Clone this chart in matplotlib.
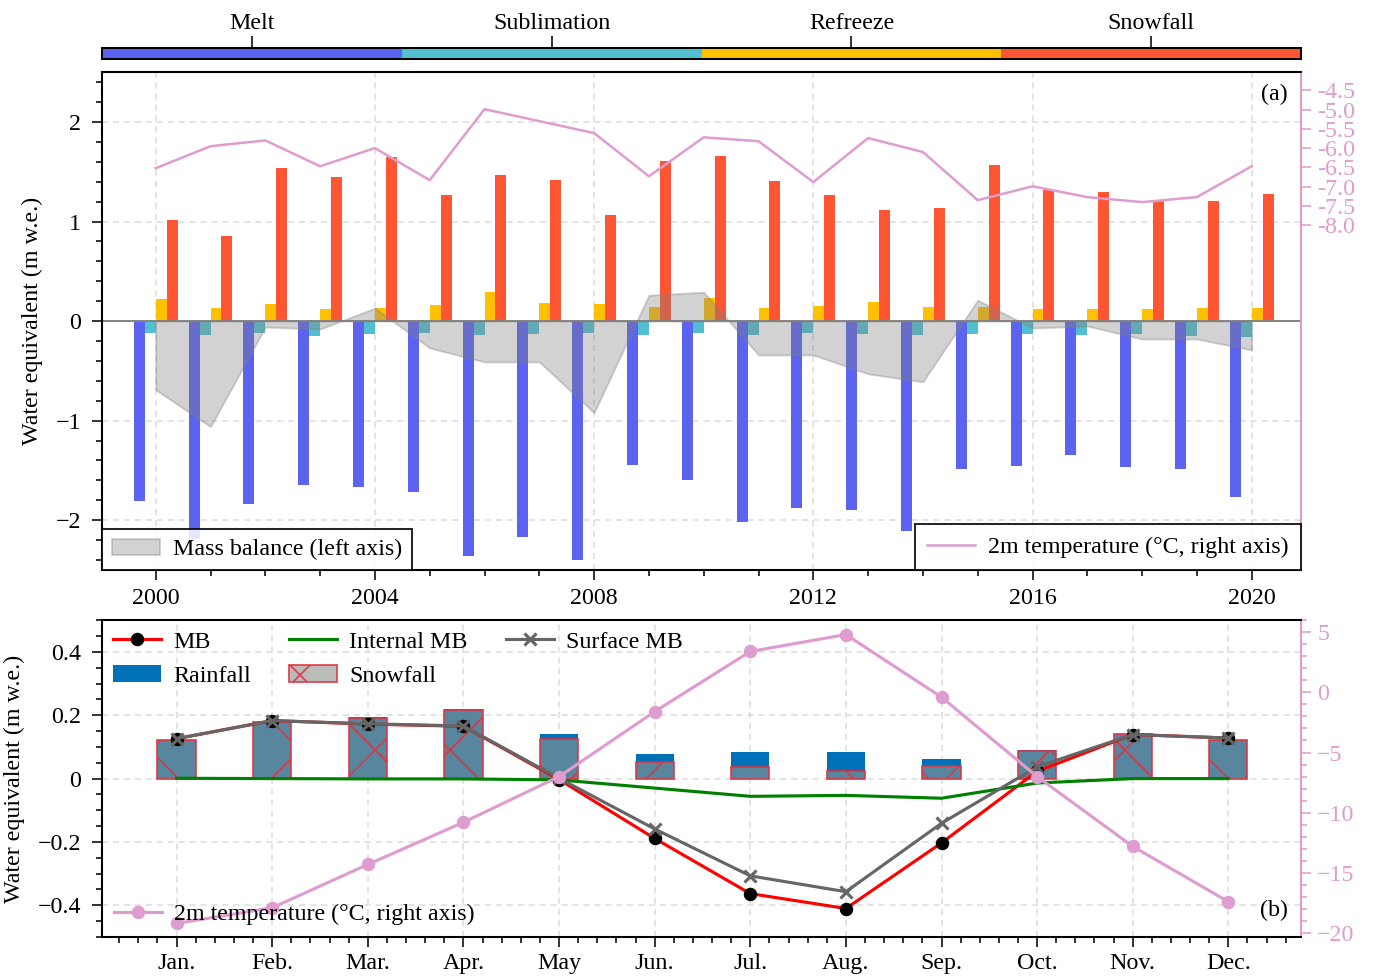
# glacier mass balance: annual components (a) and monthly cycle (b)
import numpy as np
import matplotlib
matplotlib.use('Agg')
import matplotlib.pyplot as plt
from matplotlib.ticker import MultipleLocator, FuncFormatter

plt.rcParams['font.family'] = ['Liberation Serif', 'DejaVu Serif']
plt.rcParams['font.size'] = 7.7
plt.rcParams['hatch.linewidth'] = 0.6
plt.rcParams['axes.linewidth'] = 0.65

# ---- annual data (panel a) ----
years = np.arange(2000, 2021)
melt = [-1.81, -2.19, -1.84, -1.65, -1.67, -1.72, -2.36, -2.17, -2.40, -1.45, -1.60,
        -2.02, -1.88, -1.90, -2.11, -1.49, -1.46, -1.35, -1.47, -1.49, -1.77]
sublimation = [-0.12, -0.14, -0.12, -0.15, -0.13, -0.12, -0.14, -0.13, -0.12, -0.14, -0.12,
               -0.14, -0.12, -0.13, -0.14, -0.13, -0.13, -0.14, -0.13, -0.15, -0.16]
refreeze = [0.22, 0.13, 0.17, 0.12, 0.13, 0.16, 0.29, 0.18, 0.17, 0.14, 0.23,
            0.13, 0.15, 0.19, 0.14, 0.14, 0.12, 0.12, 0.12, 0.13, 0.13]
snowfall_yr = [1.02, 0.85, 1.54, 1.45, 1.65, 1.27, 1.47, 1.42, 1.07, 1.61, 1.66,
               1.41, 1.27, 1.12, 1.14, 1.57, 1.32, 1.30, 1.22, 1.21, 1.28]
mass_balance = [-0.69, -1.06, -0.06, -0.08, 0.13, -0.27, -0.41, -0.41, -0.92, 0.26, 0.29,
                -0.34, -0.34, -0.53, -0.61, 0.21, -0.07, -0.05, -0.18, -0.18, -0.29]
temp_yr = [-6.52, -5.95, -5.80, -6.47, -6.00, -6.83, -4.99, -5.30, -5.61, -6.73, -5.72,
           -5.82, -6.88, -5.74, -6.10, -7.35, -6.99, -7.27, -7.40, -7.27, -6.47]
components = ['Melt', 'Sublimation', 'Refreeze', 'Snowfall']
comp_colors = ['#5B63F0', '#52BFD0', '#FFC000', '#FF5533']
temp_ticks = [-4.5, -5.0, -5.5, -6.0, -6.5, -7.0, -7.5, -8.0]

# ---- monthly data (panel b) ----
months = np.arange(1, 13)
month_labels = ['Jan.', 'Feb.', 'Mar.', 'Apr.', 'May', 'Jun.', 'Jul.', 'Aug.',
                'Sep.', 'Oct.', 'Nov.', 'Dec.']
mb_month = [0.126, 0.183, 0.172, 0.165, -0.003, -0.189, -0.363, -0.410, -0.203, 0.023, 0.139, 0.128]
internal_mb = [0.001, 0.0, -0.001, -0.001, -0.004, -0.030, -0.056, -0.053, -0.062, -0.014, 0.0, 0.0]
surface_mb = [0.126, 0.183, 0.173, 0.166, 0.001, -0.159, -0.307, -0.357, -0.141, 0.037, 0.139, 0.128]
snowfall_mo = [0.121, 0.179, 0.191, 0.217, 0.125, 0.053, 0.036, 0.025, 0.041, 0.086, 0.141, 0.123]
rainfall_mo = [0.001, 0.001, 0.002, 0.004, 0.015, 0.026, 0.048, 0.059, 0.021, 0.005, 0.0, 0.0]
temp_mo = [-19.2, -17.9, -14.3, -10.8, -7.0, -1.6, 3.4, 4.8, -0.4, -7.0, -12.8, -17.4]

pink = '#DF9CCF'
grid_kw = dict(color='#DDDDDD', lw=0.5, ls=(0, (4, 3)))
tick_kw = dict(length=3.2, width=0.5)
mtick_kw = dict(length=1.9, width=0.5)

fig = plt.figure(figsize=(1375 / 225, 978 / 225), dpi=225)
L, W = 0.0742, 0.872

# ---- top colour strip ----
ax_c = fig.add_axes([L, 0.9397, W, 0.01125])
ax_c.bar(np.arange(4), np.ones(4), width=1.0, color=comp_colors)
ax_c.set_xlim(-0.5, 3.5)
ax_c.set_ylim(0, 1)
ax_c.set_yticks([])
ax_c.xaxis.tick_top()
ax_c.set_xticks(np.arange(4))
ax_c.set_xticklabels(components)
ax_c.tick_params(axis='x', length=3.8, width=0.5, pad=0.6)

# ---- panel (a) ----
ax_a = fig.add_axes([L, 0.4172, W, 0.509])
offsets = [-0.3, -0.1, 0.1, 0.3]
for vals, off, c in zip([melt, sublimation, refreeze, snowfall_yr], offsets, comp_colors):
    ax_a.bar(years + off, vals, 0.2, color=c, zorder=2)
mb_fill = ax_a.fill_between(years, mass_balance, 0, facecolor='gray', edgecolor='gray',
                            alpha=0.35, lw=0.6, zorder=3, label='Mass balance (left axis)')
ax_a.axhline(0, color='gray', lw=0.6, zorder=3)
ax_a.set_xlim(1999.02, 2020.9)
ax_a.set_ylim(-2.5, 2.5)
ax_a.set_xticks(np.arange(2000, 2021, 4))
ax_a.xaxis.set_minor_locator(MultipleLocator(1))
ax_a.yaxis.set_major_locator(MultipleLocator(1))
ax_a.yaxis.set_minor_locator(MultipleLocator(0.2))
ax_a.tick_params(which='major', **tick_kw)
ax_a.tick_params(which='minor', **mtick_kw)
ax_a.tick_params(axis='x', pad=2.5)
ax_a.grid(True, which='major', zorder=0, **grid_kw)
ax_a.set_axisbelow(True)
ax_a.set_ylabel('Water equivalent (m w.e.)')
ax_a.spines['right'].set_visible(False)

ax_a2 = ax_a.twinx()
t_line, = ax_a2.plot(years, temp_yr, color=pink, lw=0.8, label='2m temperature (°C, right axis)')
ax_a2.set_ylim(-16.94, -4.03)
ax_a2.set_yticks(temp_ticks)
ax_a2.set_yticklabels(['{:.1f}'.format(t) for t in temp_ticks])
ax_a2.tick_params(axis='y', colors=pink, pad=2, **tick_kw)
ax_a2.spines['right'].set_color(pink)
ax_a2.text(0.989, 0.976, '(a)', transform=ax_a2.transAxes, ha='right', va='top')

leg_kw = dict(fancybox=False, edgecolor='black', framealpha=0.85, borderaxespad=0,
              handletextpad=0.55)
leg1 = ax_a2.legend(handles=[mb_fill], loc='lower left', **leg_kw)
leg1.get_frame().set_linewidth(0.65)
ax_a2.add_artist(leg1)
leg2 = ax_a2.legend(handles=[t_line], loc='lower right', borderpad=0.5, **leg_kw)
leg2.get_frame().set_linewidth(0.65)

# ---- panel (b) ----
ax_b = fig.add_axes([L, 0.0419, W, 0.324])
total = np.array(rainfall_mo) + np.array(snowfall_mo)
rain_bars = ax_b.bar(months, total, 0.4, color='#0070B8', label='Rainfall', zorder=2)
snow_bars = ax_b.bar(months, snowfall_mo, 0.4, facecolor=(0.56, 0.58, 0.56, 0.62),
                     edgecolor=(0.88, 0.2, 0.25, 0.85), hatch='x', lw=0.6,
                     label='Snowfall', zorder=2)
l_mb, = ax_b.plot(months, mb_month, color='red', lw=1.0, marker='o', ms=3.3,
                  mfc='black', mec='black', label='MB', zorder=3)
l_int, = ax_b.plot(months, internal_mb, color='green', lw=1.0, label='Internal MB', zorder=3)
l_sfc, = ax_b.plot(months, surface_mb, color='#666666', lw=1.0, marker='x', ms=3.8,
                   mew=1.0, label='Surface MB', zorder=3)
ax_b.set_xlim(0.22, 12.76)
ax_b.set_ylim(-0.5, 0.5)
ax_b.set_xticks(months)
ax_b.set_xticklabels(month_labels)
ax_b.xaxis.set_minor_locator(MultipleLocator(0.2))
ax_b.yaxis.set_major_locator(MultipleLocator(0.2))
ax_b.yaxis.set_minor_locator(MultipleLocator(0.05))
ax_b.yaxis.set_major_formatter(FuncFormatter(
    lambda v, p: '0' if abs(v) < 1e-9 else '{:.1f}'.format(v).replace('-', '\u2212')))
ax_b.tick_params(which='major', **tick_kw)
ax_b.tick_params(which='minor', **mtick_kw)
ax_b.tick_params(axis='x', pad=2)
ax_b.grid(True, which='major', zorder=0, **grid_kw)
ax_b.set_axisbelow(True)
ax_b.set_ylabel('Water equivalent (m w.e.)')
ax_b.spines['right'].set_visible(False)

ax_b2 = ax_b.twinx()
l_t, = ax_b2.plot(months, temp_mo, color=pink, lw=1.0, marker='o', ms=3.3,
                  label='2m temperature (°C, right axis)')
ax_b2.set_ylim(-20.33, 6.0)
ax_b2.yaxis.set_major_locator(MultipleLocator(5))
ax_b2.yaxis.set_minor_locator(MultipleLocator(1))
ax_b2.tick_params(axis='y', which='major', colors=pink, pad=2, **tick_kw)
ax_b2.tick_params(axis='y', which='minor', colors=pink, **mtick_kw)
ax_b2.spines['right'].set_color(pink)
ax_b2.text(0.989, 0.085, '(b)', transform=ax_b2.transAxes, ha='right', va='center')

leg3 = ax_b2.legend(handles=[l_mb, rain_bars, l_int, snow_bars, l_sfc], loc='upper left',
                    ncol=3, frameon=False, borderaxespad=0.2, borderpad=0.25,
                    labelspacing=0.5, columnspacing=1.6, handletextpad=0.5)
ax_b2.add_artist(leg3)
ax_b2.legend(handles=[l_t], loc='lower left', frameon=False, borderaxespad=0.2,
             borderpad=0.3, handletextpad=0.5)

fig.savefig('out.png', dpi=225)
